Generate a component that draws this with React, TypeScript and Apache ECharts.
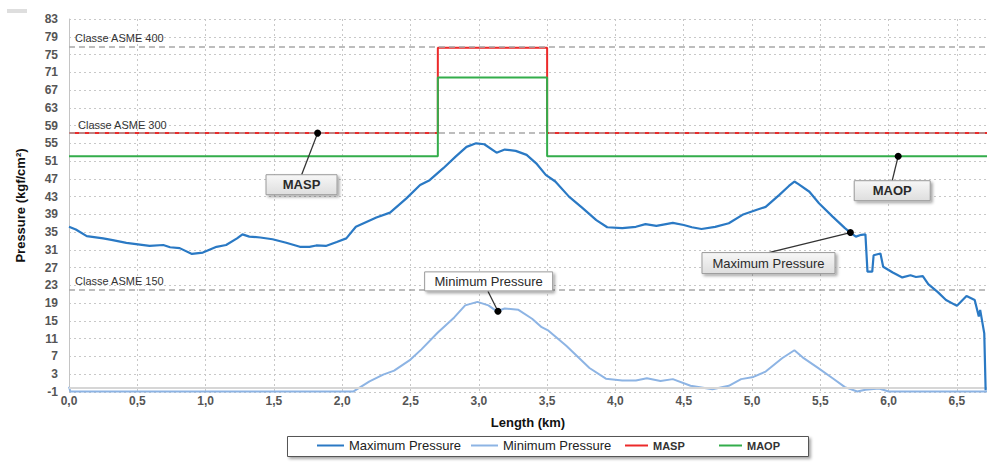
import React, { useEffect, useRef } from "react";
import * as echarts from "echarts";

// ---- axes ----
const yMin = -1;
const yMax = 83;
const yStep = 4;
const xMin = 0;
const xMax = 6.72;
const xStep = 0.5;

// ---- series data: [length km, pressure kgf/cm2] ----
const maxPressure: [number, number][] = [
  [0, 36.2], [0.05, 35.6], [0.13, 34.1], [0.25, 33.6], [0.32, 33.2], [0.42, 32.6],
  [0.59, 31.9], [0.69, 32.1], [0.74, 31.6], [0.81, 31.4], [0.9, 30.1], [0.98, 30.4],
  [1.08, 31.7], [1.15, 32.1], [1.23, 33.6], [1.27, 34.5], [1.32, 34.0], [1.4, 33.8],
  [1.49, 33.4], [1.59, 32.6], [1.69, 31.7], [1.76, 31.7], [1.81, 32.0], [1.88, 31.9],
  [1.96, 32.8], [2.03, 33.6], [2.1, 36.2], [2.25, 38.3], [2.35, 39.4], [2.47, 42.6],
  [2.57, 45.6], [2.64, 46.7], [2.74, 49.4], [2.83, 52.0], [2.91, 54.2], [2.98, 55.0],
  [3.04, 54.8], [3.13, 52.9], [3.19, 53.6], [3.27, 53.3], [3.35, 52.4], [3.42, 50.5],
  [3.49, 47.9], [3.56, 46.4], [3.66, 43.0], [3.76, 40.4], [3.86, 37.7], [3.94, 36.1],
  [4.05, 35.9], [4.15, 36.2], [4.22, 36.8], [4.3, 36.4], [4.42, 37.1], [4.5, 36.6],
  [4.56, 36.1], [4.63, 35.7], [4.73, 36.2], [4.83, 37.0], [4.93, 38.9], [5.03, 40.0],
  [5.1, 40.7], [5.2, 43.4], [5.27, 45.4], [5.31, 46.4], [5.34, 45.8], [5.42, 44.1],
  [5.49, 41.5], [5.59, 38.5], [5.68, 35.9], [5.72, 34.9], [5.76, 34.0], [5.8, 34.4],
  [5.83, 34.5], [5.845, 26.1], [5.88, 26.1], [5.89, 29.8], [5.94, 30.2], [5.96, 27.2],
  [6.03, 25.9], [6.1, 24.8], [6.16, 25.3], [6.2, 24.9], [6.25, 25.1], [6.29, 23.3],
  [6.36, 21.5], [6.42, 19.7], [6.5, 18.4], [6.57, 20.6], [6.63, 19.7], [6.66, 16.0],
  [6.67, 17.5], [6.7, 12.2], [6.71, -0.6],
];

const minPressure: [number, number][] = [
  [0, 0.2], [0.01, -0.9], [2.08, -0.9], [2.2, 1.4], [2.3, 2.9], [2.38, 3.8], [2.5, 6.3],
  [2.58, 8.6], [2.7, 12.4], [2.82, 15.8], [2.9, 18.5], [2.99, 19.3], [3.07, 18.5],
  [3.13, 17.2], [3.19, 17.8], [3.29, 17.5], [3.39, 15.5], [3.46, 13.6], [3.51, 12.8],
  [3.64, 9.4], [3.81, 4.4], [3.93, 2.0], [4.05, 1.6], [4.15, 1.6], [4.23, 2.1],
  [4.33, 1.5], [4.42, 1.9], [4.55, 0.4], [4.71, -0.4], [4.83, 0.4], [4.92, 1.9],
  [5.01, 2.4], [5.1, 3.6], [5.22, 6.6], [5.31, 8.4], [5.37, 6.8], [5.48, 4.5],
  [5.59, 2.1], [5.68, 0.1], [5.77, -0.9], [5.83, -0.5], [5.93, -0.2], [6.0, -0.9],
  [6.72, -0.9],
];

const masp: [number, number][] = [
  [0, 57.3], [2.7, 57.3], [2.7, 76.5], [3.5, 76.5], [3.5, 57.3], [6.72, 57.3],
];

const maop: [number, number][] = [
  [0, 52.1], [2.7, 52.1], [2.7, 69.8], [3.5, 69.8], [3.5, 52.1], [6.72, 52.1],
];

const asmeNames = ["Classe ASME 400", "Classe ASME 300", "Classe ASME 150"];
const asmeValues = [76.8, 57.3, 22.0];

const legendNames = ["Maximum Pressure", "Minimum Pressure", "MASP", "MAOP"];

// callouts: text and the data point they point to
const calloutTexts = ["MASP", "MAOP", "Maximum Pressure", "Minimum Pressure"];
const calloutPoints: [number, number][] = [
  [1.82, 57.3], [6.07, 52.1], [5.72, 34.9], [3.14, 17.2],
];

// ---- layout / styling only ----
const calloutLayout = [
  { bx: -51.6, by: 41.6, w: 71, h: 20, ax: -16, ay: 41.6, bold: true, size: 13, plain: false },
  { bx: -44, by: 24.5, w: 76, h: 20, ax: -6, ay: 24.5, bold: true, size: 13, plain: false },
  { bx: -148.4, by: 20, w: 133, h: 21, ax: -81.7, ay: 20, bold: false, size: 13, plain: false },
  { bx: -73.3, by: -39.3, w: 128, h: 19, ax: -10, ay: -20, bold: false, size: 13, plain: true },
];
const legendLefts = [317, 471, 625, 719];
const legendIconW = [27, 27, 23, 23];

const C_MAX = "#2a79c4";
const C_MIN = "#8db4e4";
const C_MASP = "#ec2a2a";
const C_MAOP = "#33ad4b";
const FONT = "Liberation Sans";

const fmt = (v: number) => v.toFixed(1).replace(".", ",");

export default function App() {
  const ref = useRef<HTMLDivElement>(null);

  useEffect(() => {
    const chart = echarts.init(ref.current!, null, { renderer: "svg" });

    const option: any = {
      animation: false,
      backgroundColor: "#ffffff",
      textStyle: { fontFamily: FONT },
      grid: { left: 69, right: 2, top: 19, bottom: 70, containLabel: false },
      legend: legendNames.map((n, i) => {
        const bold = i >= 2;
        return {
          data: [n],
          left: legendLefts[i],
          top: bold ? 440 : 439,
          padding: 0,
          itemWidth: legendIconW[i],
          itemHeight: 2,
          icon: "rect",
          selectedMode: false,
          textStyle: bold
            ? { fontSize: 11, fontWeight: "bold", color: "#333", fontFamily: FONT }
            : { fontSize: 13, color: "#222", fontFamily: FONT },
        };
      }),
      xAxis: {
        type: "value",
        min: xMin,
        max: xMax,
        interval: xStep,
        name: "Length (km)",
        nameLocation: "middle",
        nameGap: 24,
        nameTextStyle: { fontSize: 13, fontWeight: "bold", color: "#111", fontFamily: FONT },
        axisLine: { show: false, onZero: false },
        axisTick: { show: false },
        axisLabel: {
          margin: 3,
          fontSize: 12,
          fontWeight: "bold",
          color: "#555",
          showMaxLabel: false,
          formatter: (v: number) => fmt(v),
        },
        splitLine: {
          show: true,
          showMaxLine: false,
          lineStyle: { type: [2, 3], color: "#c8c8c8", width: 1 },
        },
      },
      yAxis: {
        type: "value",
        min: yMin,
        max: yMax,
        interval: yStep,
        name: "Pressure (kgf/cm²)",
        nameLocation: "middle",
        nameGap: 42,
        nameTextStyle: { fontSize: 13, fontWeight: "bold", color: "#111", fontFamily: FONT },
        axisLine: { show: true, lineStyle: { color: "#c4c4c4", width: 1 } },
        axisTick: { show: false },
        axisLabel: { margin: 11, fontSize: 12, fontWeight: "bold", color: "#555" },
        splitLine: { show: true, lineStyle: { type: [2, 3], color: "#c8c8c8", width: 1 } },
      },
      series: [
        {
          name: "asme",
          type: "line",
          data: [],
          z: 1,
          silent: true,
          markLine: {
            silent: true,
            symbol: "none",
            animation: false,
            data: [
              ...asmeNames.map((n, i) => ({
                name: n,
                yAxis: asmeValues[i],
                lineStyle: { type: [6, 4], color: "#a8a8a8", width: 1.6 },
                label: {
                  show: true,
                  position: "insideStartTop",
                  formatter: n,
                  distance: [i === 1 ? 9 : 6, 3],
                  fontSize: 11,
                  color: "#333",
                  fontFamily: FONT,
                },
              })),
              {
                name: "zero",
                yAxis: 0,
                lineStyle: { type: "solid", color: "#d6d6d6", width: 2 },
                label: { show: false },
              },
            ],
          },
        },
        {
          name: legendNames[2],
          type: "line",
          data: masp,
          showSymbol: false,
          z: 3,
          color: C_MASP,
          lineStyle: { color: C_MASP, width: 2 },
        },
        {
          name: legendNames[3],
          type: "line",
          data: maop,
          showSymbol: false,
          z: 3,
          color: C_MAOP,
          lineStyle: { color: C_MAOP, width: 2 },
        },
        {
          name: legendNames[1],
          type: "line",
          data: minPressure,
          showSymbol: false,
          z: 4,
          color: C_MIN,
          lineStyle: { color: C_MIN, width: 2 },
        },
        {
          name: legendNames[0],
          type: "line",
          data: maxPressure,
          showSymbol: false,
          z: 5,
          color: C_MAX,
          lineStyle: { color: C_MAX, width: 2.2 },
        },
      ],
    };

    chart.setOption(option);

    const elements: any[] = [
      {
        type: "rect",
        shape: { x: 7, y: 9, width: 20, height: 4 },
        style: { fill: "#dedede" },
        silent: true,
      },
      {
        type: "rect",
        shape: { x: 287.5, y: 436.5, width: 521, height: 20 },
        style: {
          fill: "#ffffff",
          stroke: "#555",
          lineWidth: 1,
          shadowBlur: 3,
          shadowColor: "rgba(0,0,0,0.35)",
          shadowOffsetX: 2,
          shadowOffsetY: 2,
        },
        z: -10,
        silent: true,
      },
    ];
    calloutTexts.forEach((t, i) => {
      const p = chart.convertToPixel({ xAxisIndex: 0, yAxisIndex: 0 }, calloutPoints[i]) as number[];
      const L = calloutLayout[i];
      const px = p[0];
      const py = p[1];
      elements.push({
        type: "line",
        shape: { x1: px, y1: py, x2: px + L.ax, y2: py + L.ay },
        style: { stroke: "#333", lineWidth: 1.3 },
        z: 100,
        silent: true,
      });
      elements.push({
        type: "rect",
        shape: { x: px + L.bx, y: py + L.by, width: L.w, height: L.h },
        style: {
          fill: L.plain
            ? "#ffffff"
            : new echarts.graphic.LinearGradient(0, 0, 0, 1, [
                { offset: 0, color: "#f7f7f7" },
                { offset: 1, color: "#dedede" },
              ]),
          stroke: "#9a9a9a",
          lineWidth: 1,
          shadowBlur: 3,
          shadowColor: "rgba(0,0,0,0.35)",
          shadowOffsetX: 2,
          shadowOffsetY: 2,
        },
        z: 101,
        silent: true,
      });
      elements.push({
        type: "text",
        x: px + L.bx + L.w / 2,
        y: py + L.by + L.h / 2,
        style: {
          text: t,
          fill: "#2a2a2a",
          font: `${L.bold ? "bold " : ""}${L.size}px ${FONT}`,
          align: "center",
          verticalAlign: "middle",
        },
        z: 102,
        silent: true,
      });
      elements.push({
        type: "circle",
        shape: { cx: px, cy: py, r: 3.5 },
        style: { fill: "#000" },
        z: 103,
        silent: true,
      });
    });

    chart.setOption({ graphic: { elements } });

    return () => chart.dispose();
  }, []);

  return (
    <div
      ref={ref}
      style={{ position: "absolute", left: 0, top: 0, width: 989, height: 462 }}
    />
  );
}
